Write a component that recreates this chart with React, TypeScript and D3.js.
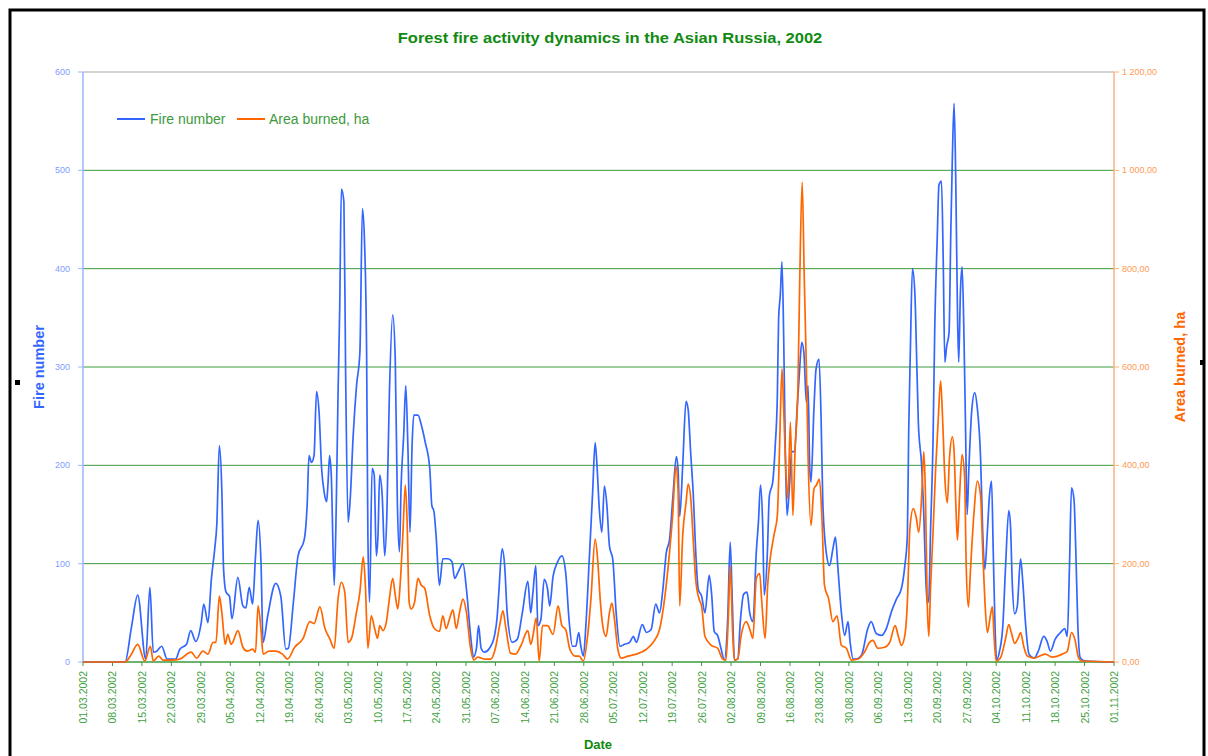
import React from "react";
import * as d3 from "d3";

// ---- data (day offset from 01.03.2002, value) ----
const fireDays = [0,10,11.5,13,14.9,15.9,16.7,17.5,18.7,20,22,23,24.6,25.6,26.8,28.1,28.7,29.7,30.5,31.3,31.8,32.4,33,33.4,34,34.8,35.4,36.8,38,38.7,39.5,40.3,41,41.6,42.3,42.8,43.9,45.8,47,48.2,48.8,50,51.1,52.6,53.3,53.7,54.3,54.9,55.5,56.1,56.7,57.3,57.9,58.2,58.6,59,59.7,60.2,60.6,61,61.4,62,62.4,63,63.5,64.2,65,65.8,66.4,66.9,67.4,67.7,68.1,68.7,69.2,69.7,70.1,70.5,71.1,71.7,72.2,72.8,73.6,74.2,74.7,75.2,75.6,76.2,76.7,77.2,77.7,78.2,78.6,79.6,80.4,81.3,82.4,82.9,83.4,83.9,84.7,85.5,86.7,87.7,88.3,89.2,90.3,91.1,92.1,92.8,93.5,94,94.6,95.4,96.6,97.8,98.4,98.8,99.6,100.2,100.8,102,103.2,104.4,105.7,106.4,106.9,107.6,108.1,108.8,109.6,110.4,110.9,111.7,112.7,113.8,114.7,115.5,116.3,117.1,117.8,118.3,118.9,119.5,120.3,121.1,121.7,122.1,122.7,123.3,123.9,124.5,125.1,125.9,126.7,127.6,128.7,129.9,130.8,131.5,132.9,133.9,135,136.1,137,137.8,138.6,139.4,140.2,141,141.4,141.8,142.5,143.3,143.8,144.4,145,145.7,146.2,147,147.8,148.8,149.4,150,150.8,151.6,152.4,153.2,153.8,154.3,154.8,155.6,156.2,157,157.8,158.4,159.2,160,160.5,161,161.5,161.9,162.6,163.1,163.9,164.5,165,165.3,165.7,166.1,166.5,166.9,167.3,167.9,168.4,169.1,169.7,170.3,170.8,171.3,171.9,172.3,172.7,173,173.7,174.2,174.9,175.4,175.8,176.6,177.4,178.2,178.8,179.4,180.2,181,181.8,182.3,183,183.8,185,186.5,187.3,188.5,189.7,190.9,192.1,193.3,194.5,195.3,195.9,196.2,196.6,197.1,197.7,198,198.5,199.3,199.8,200.2,200.6,201,201.4,202,202.4,203,203.4,204,204.4,204.8,205.2,205.8,206.2,206.6,207,207.4,207.8,208.1,208.5,208.9,209.3,209.7,210.1,210.5,211.2,211.9,212.5,213.3,213.8,214.3,214.9,215.4,215.9,216.3,216.7,217.1,217.8,218.6,219.2,220,220.4,220.8,221.4,222,222.8,223.3,224,224.8,226,227,228.3,229.1,229.9,231,232.3,233.3,233.9,234.4,234.9,235.5,235.9,236.4,237,238.2,245];
const fireValues = [0,0,35,68,3,76,10,11,16,3,3,13,18,32,21,40,59,40,84,115,140,220,173,95,71,67,44,86,57,55,76,59,108,144,101,20,47,80,67,13,14,61,108,125,163,210,203,210,275,254,197,173,163,180,210,190,78,163,271,359,481,468,298,142,166,230,281,315,461,427,312,129,61,197,190,108,129,190,169,108,149,271,353,308,163,112,180,230,281,220,132,220,251,251,241,224,197,159,153,129,78,105,105,102,85,92,100,75,27,5,14,37,14,10,14,27,45,70,115,98,50,20,23,50,82,50,70,98,37,43,84,74,57,87,101,108,91,43,16,16,30,16,6,37,104,172,223,203,155,132,179,159,118,104,50,16,18,20,26,20,38,30,33,59,50,74,111,125,169,209,196,148,199,265,257,213,172,104,74,67,50,88,68,31,27,14,2,44,122,61,2,3,41,69,71,51,41,112,142,180,142,68,108,169,183,220,271,349,373,407,332,214,149,180,214,214,258,298,325,315,264,281,197,183,258,298,308,247,163,112,98,115,127,95,51,27,41,20,3,3,7,34,41,29,27,34,51,64,75,98,129,231,315,400,373,327,244,199,150,94,60,64,132,226,338,432,485,489,414,305,320,335,432,515,568,489,357,305,376,402,342,244,150,195,256,274,259,207,132,94,132,169,184,113,41,2,11,38,94,154,139,83,49,56,105,83,38,8,4,11,26,21,11,23,30,34,26,94,177,165,117,38,4,1,0];

const areaDays = [0,10,11.5,13,14.7,16,16.7,18,19,21,23,25.7,27,28.5,29.7,30.9,31.6,32.4,33,33.8,34.4,35.2,35.7,36.8,38,39,40.3,41,41.6,42.3,42.8,44.2,45.8,47.4,48.6,50.3,52.3,53.9,54.9,56.3,57.5,58.6,59.7,60.6,61.4,62.2,63,63.8,65,65.8,66.6,67.1,67.7,68.5,69.3,70,70.5,71.3,72.1,72.8,73.6,74.2,74.8,75.4,76,76.6,77,77.5,78,78.8,79.6,80.4,81.2,82.4,83.5,84.7,85.5,86.3,87.1,87.9,88.7,89.5,90.3,91.1,92.1,92.9,93.8,95.4,96.9,98,99,99.8,100.4,101.6,102.8,104,105.7,106.4,106.9,107.7,108.4,109.2,110.4,111.7,112.9,113.8,114.7,115.7,117,117.9,118.9,119.9,120.7,121.7,122.3,122.9,123.5,124.3,125.1,125.7,126.3,127.1,127.9,129.5,131.5,133.9,135.5,137,138.2,139.3,140.1,140.9,141.4,141.8,142.5,143.3,143.8,144.5,145,145.6,146.4,147,147.8,149.3,150.8,152,152.8,153.4,153.8,154.4,154.8,155.6,156.4,157.6,158.4,159.2,160,160.8,161.3,162.1,162.7,163.3,164.2,165,165.5,166.1,166.5,167,167.5,168.1,168.7,169.2,169.9,170.3,170.9,171.4,171.9,172.3,173,173.7,174.3,175,175.6,176.2,177.2,178.2,179.2,180.2,181.4,182.6,184.2,185.7,186.9,187.7,188.9,190.5,191.7,193,193.7,194.5,195.3,195.9,196.5,197.3,198,198.6,199.3,199.8,200.2,200.6,201,201.4,202,202.6,203.2,203.8,204.3,204.8,205.4,205.9,206.6,207,207.4,207.8,208.3,208.9,209.5,209.9,210.4,210.9,211.7,212.5,213.3,213.8,214.3,214.9,215.7,216.1,216.5,217,218,219.2,220,220.6,221.4,222.2,222.8,223.6,224.4,226,228.7,230.3,232.7,233.9,234.9,235.7,236.6,237.4,245];
const areaValues = [0,0,16,36,2,32,2,12,4,4,6,20,8,22,16,40,40,134,100,36,56,36,42,64,30,22,26,20,114,66,16,22,22,16,6,30,48,82,78,112,68,48,28,128,162,142,40,48,102,142,214,156,28,94,68,48,74,64,82,128,170,136,108,162,258,360,292,122,108,122,170,156,150,94,68,62,94,68,88,106,68,102,128,102,28,4,10,6,6,28,74,104,74,18,16,32,64,36,52,90,2,74,74,56,114,74,66,26,12,12,2,52,128,250,208,128,74,52,100,120,86,26,8,12,16,26,40,66,128,216,296,398,352,114,256,324,362,324,250,168,128,114,52,34,28,6,4,102,196,54,4,6,54,82,68,48,170,180,122,48,156,210,258,298,428,596,516,394,332,488,298,428,562,766,976,780,596,420,278,352,360,372,292,156,128,82,94,34,28,4,6,20,40,44,28,30,40,74,54,34,54,122,272,312,294,264,338,428,338,128,52,150,264,390,488,572,488,376,324,414,458,428,324,248,338,422,376,188,112,188,300,368,338,226,128,60,98,112,52,2,8,46,76,60,38,48,60,30,12,8,16,10,16,22,60,46,8,2,0];

const fireTicks = [0, 100, 200, 300, 400, 500, 600];
const areaTicks = [0, 200, 400, 600, 800, 1000, 1200];
const dateTicks = d3.range(0, 246, 7);
const startDate = new Date(Date.UTC(2002, 2, 1));

const W = 1208, H = 756;
const L = 83, R = 1114, T = 72, B = 662;

export default function App() {
  const x = d3.scaleLinear().domain([0, 245]).range([L, R]);
  const yL = d3.scaleLinear().domain([0, 600]).range([B, T]);
  const yR = d3.scaleLinear().domain([0, 1200]).range([B, T]);
  const fmtDate = d3.utcFormat("%d.%m.%Y");
  const fmtArea = (v: number) => {
    const s = d3.format(",.2f")(v);
    return s.replace(/,/g, " ").replace(".", ",");
  };
  const fireLine = d3.line<number>()
    .x((_, i) => x(fireDays[i]))
    .y((v) => yL(v))
    .curve(d3.curveMonotoneX);
  const areaLine = d3.line<number>()
    .x((_, i) => x(areaDays[i]))
    .y((v) => yR(v))
    .curve(d3.curveMonotoneX);

  const green = "#3c9a3c";
  const font = "'Liberation Sans', Arial, sans-serif";

  return (
    <svg width={W} height={H} style={{ position: "absolute", left: 0, top: 0, background: "#fff" }} fontFamily={font}>
      <rect x={0} y={0} width={W} height={H} fill="#fff" />
      <rect x={10} y={10} width={1194} height={770} fill="none" stroke="#000" strokeWidth={3} />
      <rect x={15} y={380} width={5} height={5} fill="#000" />
      <rect x={1200} y={360} width={5} height={5} fill="#000" />

      <text transform="translate(610,43) scale(1.1,1)" textAnchor="middle" fontSize={15} fontWeight="bold" fill="#118a11">
        Forest fire activity dynamics in the Asian Russia, 2002
      </text>

      {/* grid */}
      {fireTicks.slice(1, 6).map((t) => (
        <line key={"g" + t} x1={L} x2={R} y1={yL(t)} y2={yL(t)} stroke={green} strokeWidth={1} />
      ))}
      <line x1={L} x2={R} y1={yL(600)} y2={yL(600)} stroke="#c4c4c4" strokeWidth={1.5} />

      {/* left axis */}
      <line x1={L} x2={L} y1={T} y2={B} stroke="#9db5ff" strokeWidth={1.5} />
      {fireTicks.map((t) => (
        <g key={"l" + t}>
          <line x1={L - 5} x2={L} y1={yL(t)} y2={yL(t)} stroke="#9db5ff" />
          <text x={L - 13} y={yL(t) + 3} textAnchor="end" fontSize={9} fill="#7f9cff">{t}</text>
        </g>
      ))}
      {/* right axis */}
      <line x1={R} x2={R} y1={T} y2={B} stroke="#ffb27a" strokeWidth={1.5} />
      {areaTicks.map((t) => (
        <g key={"r" + t}>
          <line x1={R} x2={R + 5} y1={yR(t)} y2={yR(t)} stroke="#ffb27a" />
          <text x={R + 8} y={yR(t) + 3} textAnchor="start" fontSize={9} fill="#ff9a55">{fmtArea(t)}</text>
        </g>
      ))}

      {/* x axis */}
      <line x1={L} x2={R} y1={B} y2={B} stroke={green} strokeWidth={1.5} />
      {dateTicks.map((d) => {
        const dt = d3.utcDay.offset(startDate, d);
        return (
          <g key={"x" + d}>
            <line x1={x(d)} x2={x(d)} y1={B} y2={B + 4} stroke={green} />
            <text transform={`translate(${x(d) + 4},${B + 9}) rotate(-90)`} textAnchor="end" fontSize={10.5} fill="#3f9f3f">
              {fmtDate(dt)}
            </text>
          </g>
        );
      })}

      {/* series */}
      <path d={fireLine(fireValues) || ""} fill="none" stroke="#3366ff" strokeWidth={1.7} strokeLinejoin="round" />
      <path d={areaLine(areaValues) || ""} fill="none" stroke="#ff6600" strokeWidth={1.7} strokeLinejoin="round" />

      {/* legend */}
      <line x1={117} x2={145} y1={119} y2={119} stroke="#3366ff" strokeWidth={2} />
      <text x={150} y={124} fontSize={14} fill={green}>Fire number</text>
      <line x1={237} x2={265} y1={119} y2={119} stroke="#ff6600" strokeWidth={2} />
      <text x={269} y={124} fontSize={14} fill={green}>Area burned, ha</text>

      {/* axis titles */}
      <text transform={`translate(44,367) rotate(-90)`} textAnchor="middle" fontSize={14.5} fontWeight="bold" fill="#3366ff">Fire number</text>
      <text transform={`translate(1185,367) rotate(-90)`} textAnchor="middle" fontSize={14.5} fontWeight="bold" fill="#ff6600">Area burned, ha</text>
      <text x={598} y={749} textAnchor="middle" fontSize={13} fontWeight="bold" fill="#118a11">Date</text>
    </svg>
  );
}
